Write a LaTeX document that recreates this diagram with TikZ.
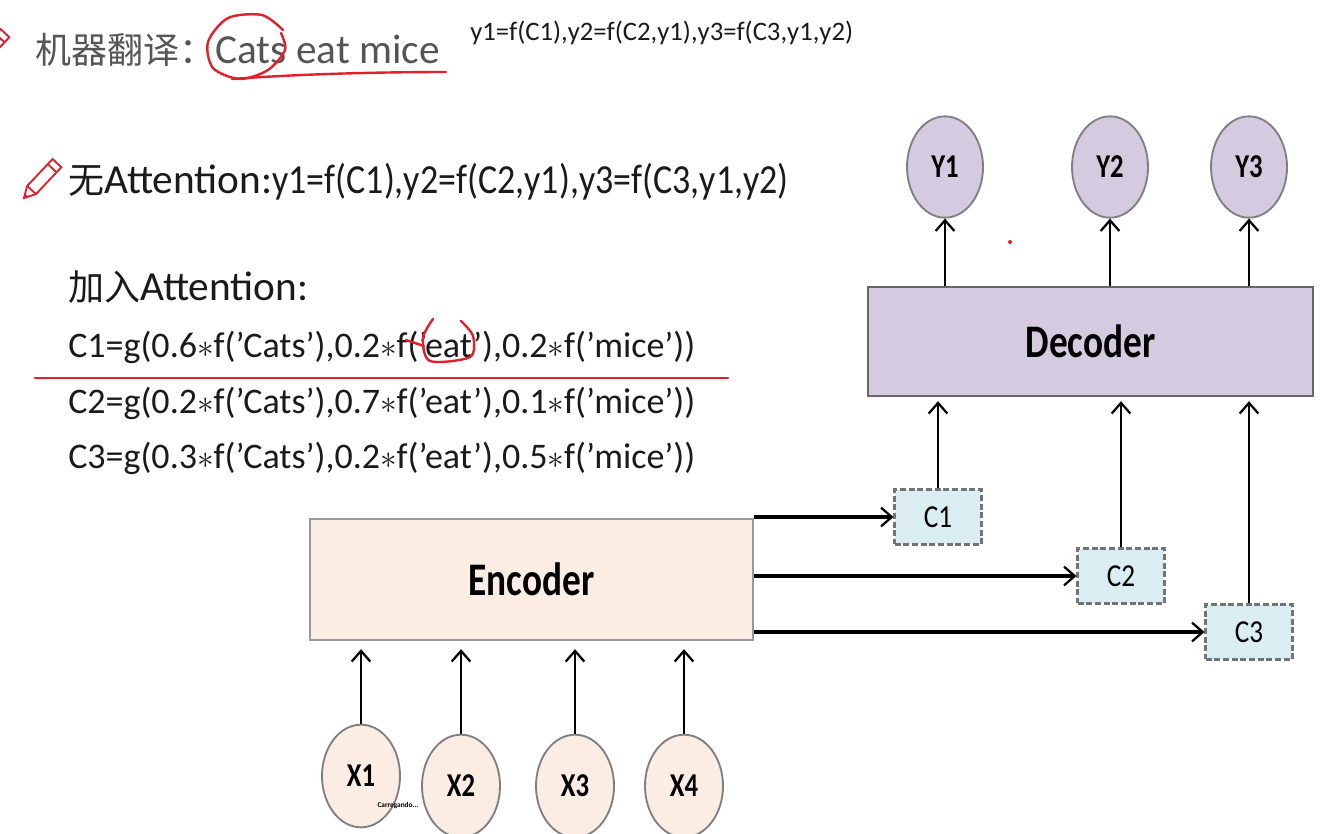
\documentclass[tikz,border=0pt]{standalone}
\usepackage{graphicx}
\usepackage{fontspec}
\setmainfont{Carlito}
\newfontfamily\cjk{Noto Sans CJK SC}
\usetikzlibrary{arrows.meta, shapes.geometric}
\usepackage{xcolor}

\definecolor{encfill}{HTML}{FBEDE3}
\definecolor{decfill}{HTML}{D4CBE0}
\definecolor{ctxfill}{HTML}{D9EDF3}
\definecolor{titlegray}{HTML}{555555}
\definecolor{ink}{HTML}{1A1A1A}
\definecolor{markred}{HTML}{E0202A}

\newcommand{\condensed}[2][0.8]{\scalebox{#1}[1]{#2}}
\newcommand{\cjkbig}{\cjk\fontsize{27}{32}\selectfont}
\newcommand{\pencilicon}[1]{%
  \begin{scope}[shift={#1}, rotate=46.6, draw=markred, line width=1.4pt]
    \draw[fill=white] (0,0) -- (11,6) -- (48,6) -- (48,-6) -- (11,-6) -- cycle;
    \draw (11,6) -- (11,-6) (41,6) -- (41,-6);
    \fill[markred] (0,0) -- (4,2.2) -- (4,-2.2) -- cycle;
  \end{scope}}

\begin{document}
\begin{tikzpicture}[x=0.75pt, y=-0.75pt,
        block/.style={rectangle, draw=black!60, line width=1.5pt, font=\fontsize{35}{40}\selectfont\bfseries},
        ctx/.style={rectangle, draw=black!55, dash pattern=on 4.5pt off 2pt, line width=1.8pt, fill=ctxfill, minimum width=65pt, minimum height=41pt, font=\fontsize{24}{26}\selectfont},
        word/.style={ellipse, draw=black!50, line width=1.4pt, minimum width=57pt, minimum height=76pt, inner sep=0pt, font=\fontsize{25}{28}\selectfont\bfseries},
        link/.style={-{Straight Barb[length=8pt, width=14pt, line width=1.7pt]}, line width=1.7pt},
        formula/.style={anchor=base west, inner sep=0pt, text=ink, font=\fontsize{27}{32}\selectfont},
        penmark/.style={draw=markred, line width=1.8pt, line cap=round}
    ]
        \useasboundingbox (0,0) rectangle (1320,833);
        \clip (0,0) rectangle (1320,833);
        \fill[white] (0,0) rectangle (1320,833);

        % Text on the left
        \node[formula, text=titlegray, font=\fontsize{31}{36}\selectfont] (title) at (35,63) {{\cjkbig 机器翻译：}Cats eat mice};
        \node[formula, font=\fontsize{20}{24}\selectfont] (rule) at (470,40) {y1=f(C1),y2=f(C2,y1),y3=f(C3,y1,y2)};
        \node[formula, font=\fontsize{31}{36}\selectfont] (plain) at (68,193) {{\cjkbig 无}Attention:\condensed[0.87]{y1=f(C1),y2=f(C2,y1),y3=f(C3,y1,y2)}};
        \node[formula, font=\fontsize{31}{36}\selectfont] (attn) at (68,300) {{\cjkbig 加入}Attention:};
        \node[formula] (c1f) at (68,357) {C1=g(0.6$*$f('Cats'),0.2$*$f('eat'),0.2$*$f('mice'))};
        \node[formula] (c2f) at (68,413) {C2=g(0.2$*$f('Cats'),0.7$*$f('eat'),0.1$*$f('mice'))};
        \node[formula] (c3f) at (68,468) {C3=g(0.3$*$f('Cats'),0.2$*$f('eat'),0.5$*$f('mice'))};

        % Encoder and decoder
        \node[block, fill=encfill, draw=black!40, minimum width=332pt, minimum height=91pt] (enc) at (531.5,579.5) {\condensed{Encoder}};
        \node[block, fill=decfill, minimum width=334pt, minimum height=82pt] (dec) at (1090.5,341.5) {\condensed{Decoder}};

        % Context vectors
        \node[ctx] (c1) at (938,517) {\condensed[0.85]{C1}};
        \node[ctx] (c2) at (1121,576) {\condensed[0.85]{C2}};
        \node[ctx] (c3) at (1249,632) {\condensed[0.85]{C3}};

        % Outputs
        \node[word, fill=decfill] (y1) at (945,167) {\condensed{Y1}};
        \node[word, fill=decfill] (y2) at (1110,167) {\condensed{Y2}};
        \node[word, fill=decfill] (y3) at (1249,167) {\condensed{Y3}};

        % Inputs
        \node[word, fill=encfill, minimum width=58.5pt, minimum height=77pt] (x1) at (361,776) {\condensed{X1}};
        \node[word, fill=encfill, minimum width=58.5pt, minimum height=77pt] (x2) at (461,786) {\condensed{X2}};
        \node[word, fill=encfill, minimum width=58.5pt, minimum height=77pt] (x3) at (575,786) {\condensed{X3}};
        \node[word, fill=encfill, minimum width=58.5pt, minimum height=77pt] (x4) at (684,786) {\condensed{X4}};
        \node[font=\fontsize{5.5}{6}\selectfont\bfseries, inner sep=0pt] (load) at (398,806) {Carregando...};

        % Arrows
        \foreach \i in {1,...,4}
            \draw[link] (x\i.north) -- ([yshift=-6pt]x\i.north |- enc.south);
        \foreach \i in {1,2,3} {
            \draw[link, line width=2.5pt] (enc.east |- c\i) -- (c\i);
            \draw[link, shorten >=3pt] (c\i) -- (c\i |- dec.south);
            \draw[link, line width=2pt] (dec.north -| y\i) -- (y\i);
        }

        % Red pen marks
        \pencilicon{(-28,68)}
        \pencilicon{(24,198)}
        \draw[penmark] plot[smooth] coordinates {(283,30) (262,15) (228,18) (208,42) (213,68) (240,79) (268,70) (285,50) (281,33)};
        \draw[penmark] (232,79) .. controls (300,74) and (380,72) .. (446,72);
        \draw[penmark] plot[smooth] coordinates {(433,319) (423,338) (430,361) (470,357) (473,336) (461,321)};
        \draw[penmark] (406,340) -- (424,346);
        \draw[penmark, line width=2.2pt] (35,378) -- (728,378);
        \fill[markred] (1010,242) circle (1.5pt);
\end{tikzpicture}
\end{document}
